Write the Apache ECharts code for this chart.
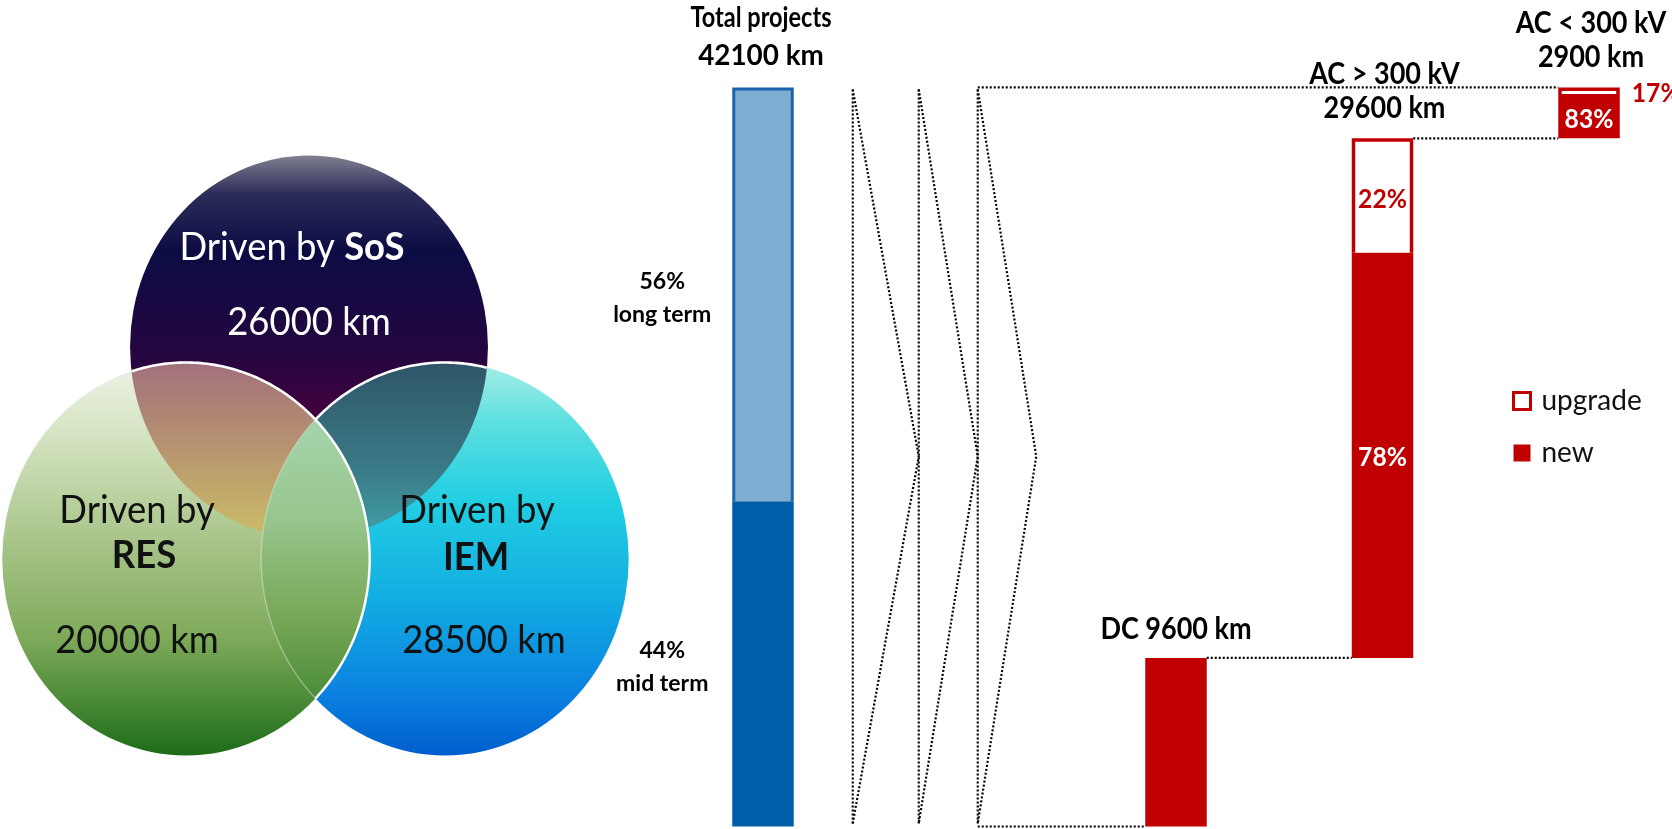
<!DOCTYPE html>
<html><head><meta charset="utf-8">
<script src="https://cdn.jsdelivr.net/npm/echarts@6/dist/echarts.min.js"></script>
<style>html,body{margin:0;padding:0;background:#fff}#c{width:1672px;height:829px}</style>
</head><body><div id="c"></div>
<script>
// ---------------- data ----------------
const categories = ['Total projects', '', 'DC', 'AC > 300 kV', 'AC < 300 kV'];
const totalKm = 42100;
const termShares = [44, 56];               // % of total, bottom to top
const termNames = ['mid term', 'long term'];
const typeNames = ['DC', 'AC > 300 kV', 'AC < 300 kV'];
const typeKm = [9600, 29600, 2900];
const newShare = [100, 78, 83];
const upgradeShare = [0, 22, 17];
const typeLabelInline = [true, false, false];
const vennNames = ['SoS', 'RES', 'IEM'];
const vennKm = [26000, 20000, 28500];

// ---------------- style ----------------
const BW = 61.5, RED = '#c00000', BLUE_DARK = '#005da8', BLUE_LIGHT = '#80aed3', BLUE_EDGE = '#1b64ad';
const FONT = 'Lato, "Open Sans", "Liberation Sans", sans-serif';
const DOT = {stroke: '#000', lineWidth: 2.2, lineDash: [2, 2], fill: null};

function txt(t, x, y, o) {
  o = o || {};
  return {type: 'text', x: x, y: y, scaleX: o.sx || 1, z2: 50,
    style: {text: t, fill: o.color || '#000', fontSize: o.size || 26, fontFamily: FONT,
      fontWeight: o.weight || 'bold', textAlign: o.align || 'center', textVerticalAlign: 'middle',
      align: o.align || 'center', verticalAlign: 'middle'}};
}

// ---------------- derived series data ----------------
const totalData = termShares.map((sh, i) => {
  const start = termShares.slice(0, i).reduce((a, b) => a + b, 0) * totalKm / 100;
  return [0, start, start + sh * totalKm / 100, sh, i];
});
let cum = 0;
const newData = [], upgradeData = [], linkData = [[1, 0, 2]];
typeKm.forEach((km, i) => {
  const cat = i + 2, start = cum, newEnd = start + km * newShare[i] / 100, end = start + km;
  newData.push([cat, start, newEnd, newShare[i], i, end]);
  if (upgradeShare[i] > 0) upgradeData.push([cat, newEnd, end, upgradeShare[i], i]);
  if (i < typeKm.length - 1) linkData.push([cat, end, cat + 1]);
  cum = end;
});
linkData.push([1, totalKm, typeKm.length + 1]);

const FOLD_OFF = [59, 125, 184], FOLD_TIP = [125, 184, 242.5];
function foldX(api) { const r = api.coord([0, 0])[0] + BW / 2; return FOLD_OFF.map(o => r + o); }

function renderTotal(params, api) {
  const cat = api.value(0), s = api.value(1), e = api.value(2), share = api.value(3), idx = api.value(4);
  const p0 = api.coord([cat, s]), p1 = api.coord([cat, e]);
  const x = p0[0] - BW / 2, yTop = p1[1], yBot = p0[1];
  const ch = [];
  if (idx === 0) {
    ch.push({type: 'rect', shape: {x: x, y: yTop, width: BW, height: yBot - yTop}, style: {fill: BLUE_DARK}});
  } else {
    ch.push({type: 'rect', shape: {x: x, y: yTop, width: BW, height: yBot - yTop}, style: {fill: BLUE_EDGE}});
    ch.push({type: 'rect', shape: {x: x + 3, y: yTop + 3, width: BW - 6, height: yBot - yTop - 3}, style: {fill: BLUE_LIGHT}});
    ch.push(txt(categories[cat], p0[0] - 2, yTop - 69, {size: 28, sx: 0.84}));
    ch.push(txt(totalKm + ' km', p0[0] - 2, yTop - 32, {size: 29, sx: 0.96}));
  }
  const cy = (yTop + yBot) / 2;
  ch.push(txt(share + '%', x - 70, cy - 13, {size: 23}));
  ch.push(txt(termNames[idx], x - 70, cy + 20, {size: 23}));
  return {type: 'group', children: ch};
}

function renderNew(params, api) {
  const cat = api.value(0), s = api.value(1), e = api.value(2), share = api.value(3), ti = api.value(4), top = api.value(5);
  const p0 = api.coord([cat, s]), p1 = api.coord([cat, e]), pt = api.coord([cat, top]);
  const x = p0[0] - BW / 2;
  const ch = [{type: 'rect', shape: {x: x, y: p1[1], width: BW, height: p0[1] - p1[1]}, style: {fill: RED}}];
  if (share < 100) ch.push(txt(share + '%', p0[0], (p0[1] + p1[1]) / 2 + 2, {color: '#fff', size: 26, sx: 0.95}));
  if (typeLabelInline[ti]) {
    ch.push(txt(typeNames[ti] + ' ' + typeKm[ti] + ' km', p0[0], pt[1] - 29, {size: 30, sx: 0.9}));
  } else {
    ch.push(txt(typeNames[ti], p0[0] + 2, pt[1] - 64, {size: 30, sx: 0.9}));
    ch.push(txt(typeKm[ti] + ' km', p0[0] + 2, pt[1] - 30, {size: 30, sx: 0.9}));
  }
  return {type: 'group', children: ch};
}

function renderUpgrade(params, api) {
  const cat = api.value(0), s = api.value(1), e = api.value(2), share = api.value(3);
  const p0 = api.coord([cat, s]), p1 = api.coord([cat, e]);
  const x = p0[0] - BW / 2, h = p0[1] - p1[1], b = 3.5;
  const ch = [
    {type: 'rect', shape: {x: x, y: p1[1], width: BW, height: h}, style: {fill: RED}},
    {type: 'rect', shape: {x: x + b, y: p1[1] + b, width: BW - 2 * b, height: Math.max(h - b - (h < 20 ? 2 : 0), 1)}, style: {fill: '#fff'}}
  ];
  const cy = (p0[1] + p1[1]) / 2;
  if (h > 30) ch.push(txt(share + '%', p0[0], cy + 4, {color: RED, size: 26, sx: 0.95}));
  else ch.push(txt(share + '%', x + BW + 12, cy + 2, {color: RED, size: 26, sx: 0.95, align: 'left'}));
  return {type: 'group', children: ch};
}

function renderLinks(params, api) {
  const from = api.value(0), v = api.value(1), to = api.value(2);
  const pTo = api.coord([to, v]);
  const xf = from === 1 ? foldX(api)[2] : api.coord([from, v])[0] + BW / 2;
  return {type: 'line', shape: {x1: xf, y1: pTo[1], x2: pTo[0] - BW / 2, y2: pTo[1]}, style: DOT};
}

function renderFold(params, api) {
  const yb = api.coord([0, api.value(1)])[1] - 3, yt = api.coord([0, api.value(2)])[1] + 2, ym = (yb + yt) / 2;
  const r = api.coord([0, 0])[0] + BW / 2;
  const ch = [];
  FOLD_OFF.forEach((o, k) => {
    const x = r + o, xt = r + FOLD_TIP[k];
    ch.push({type: 'line', shape: {x1: x, y1: yt, x2: x, y2: yb}, style: DOT});
    ch.push({type: 'polyline', shape: {points: [[x, yt], [xt, ym], [x, yb]]}, style: DOT});
  });
  return {type: 'group', children: ch};
}

// ---------------- Venn (decorative graphic, drawn in a horizontally squeezed group) ----------------
const SQ = 0.935;
const C = {SoS: {cx: 330.5, cy: 347, r: 191.4}, RES: {cx: 198.9, cy: 559, r: 196.5}, IEM: {cx: 475.9, cy: 559, r: 196.5}};
function grad(stops) { return {type: 'linear', x: 0, y: 0, x2: 0, y2: 1, colorStops: stops.map(s => ({offset: s[0], color: s[1]}))}; }
function arcPts(c, a0, a1, n) {
  const pts = [];
  for (let i = 0; i <= n; i++) { const a = a0 + (a1 - a0) * i / n; pts.push([c.cx + c.r * Math.cos(a), c.cy + c.r * Math.sin(a)]); }
  return pts;
}
function lensInfo(a, b) {
  const dx = b.cx - a.cx, dy = b.cy - a.cy, d = Math.hypot(dx, dy);
  const A = (d * d + a.r * a.r - b.r * b.r) / (2 * d), h = Math.sqrt(a.r * a.r - A * A);
  return {tu: Math.atan2(dy, dx), phi: Math.atan2(h, A), psi: Math.atan2(h, d - A)};
}
function lensPts(a, b) {
  const L = lensInfo(a, b);
  return arcPts(a, L.tu + L.phi, L.tu - L.phi, 60).concat(arcPts(b, L.tu + Math.PI + L.psi, L.tu + Math.PI - L.psi, 60));
}
const gSoS = grad([[0, '#80808f'], [0.1, '#2c2c5a'], [0.25, '#0c0c44'], [0.5, '#22063f'], [0.75, '#4e003f'], [1, '#8e0042']]);
const gRES = grad([[0, '#eef2e6'], [0.2, '#d2e2be'], [0.45, '#a9c58a'], [0.7, '#7eaa5a'], [0.86, '#4a8a36'], [1, '#1c6c18']]);
const gIEM = grad([[0, '#a6eee6'], [0.15, '#5edfe0'], [0.35, '#22cfe2'], [0.6, '#12ade2'], [0.85, '#0a80e0'], [1, '#005ecc']]);
const LRS = lensInfo(C.RES, C.SoS), LRI = lensInfo(C.RES, C.IEM), LIS = lensInfo(C.IEM, C.SoS), LIR = lensInfo(C.IEM, C.RES);
const vennShapes = [
  {type: 'circle', shape: C.SoS, style: {fill: gSoS}},
  {type: 'circle', shape: C.IEM, style: {fill: gIEM}},
  {type: 'circle', shape: C.RES, style: {fill: gRES}},
  {type: 'polygon', shape: {points: lensPts(C.RES, C.SoS)}, style: {fill: grad([[0, '#a2707c'], [0.5, '#b8956f'], [1, '#cbbe66']])}},
  {type: 'polygon', shape: {points: lensPts(C.IEM, C.SoS)}, style: {fill: grad([[0, '#2f5668'], [0.6, '#3a7a86'], [1, '#40a0aa']])}},
  {type: 'polygon', shape: {points: lensPts(C.RES, C.IEM)}, style: {fill: grad([[0, '#a4d4ac'], [0.35, '#98c68e'], [0.7, '#78a858'], [1, '#4a8c38']]), stroke: 'rgba(255,255,255,0.35)', lineWidth: 1.5}},
  {type: 'polyline', shape: {points: arcPts(C.RES, LRS.tu - LRS.phi, LRI.tu + LRI.phi, 160)}, style: {stroke: '#fff', lineWidth: 2.6, fill: null}},
  {type: 'polyline', shape: {points: arcPts(C.IEM, LIR.tu + LIR.phi - 2 * Math.PI, LIS.tu + LIS.phi, 60)}, style: {stroke: '#fff', lineWidth: 2.6, fill: null}}
];
function vtxt(t, x, y, color) {
  return {type: 'text', x: x, y: y, scaleX: SQ, z: 10, style: {text: t, fill: color, fontSize: 39, fontFamily: FONT, textAlign: 'center', textVerticalAlign: 'middle',
    rich: {b: {fontWeight: 'bold', fontSize: 39, fontFamily: FONT, fill: color}}}};
}
const vennGraphics = [
  {type: 'group', x: 0, y: 0, scaleX: SQ, children: vennShapes},
  vtxt('Driven by {b|' + vennNames[0] + '}', 292, 247, '#fff'),
  vtxt(vennKm[0] + ' km', 309, 322, '#fff'),
  vtxt('Driven by', 137, 510, '#111'),
  vtxt('{b|' + vennNames[1] + '}', 144, 555, '#111'),
  vtxt(vennKm[1] + ' km', 137, 640, '#111'),
  vtxt('Driven by', 477, 510, '#111'),
  vtxt('{b|' + vennNames[2] + '}', 476, 557, '#111'),
  vtxt(vennKm[2] + ' km', 484, 640, '#111')
];

// ---------------- chart ----------------
const chart = echarts.init(document.getElementById('c'), null, {renderer: 'canvas'});
chart.setOption({
  animation: false,
  grid: {left: 763, top: 87.4, width: 826, height: 739.1},
  xAxis: {type: 'category', data: categories, show: false, boundaryGap: false},
  yAxis: {type: 'value', min: 0, max: totalKm, show: false},
  legend: {
    orient: 'vertical', left: 1507, top: 382, itemWidth: 17, itemHeight: 17, itemGap: 24, selectedMode: false,
    textStyle: {fontFamily: FONT, fontSize: 28, color: '#111', padding: [0, 0, 0, 6]},
    data: [
      {name: 'upgrade', icon: 'rect', itemStyle: {color: '#fff', borderColor: RED, borderWidth: 3}},
      {name: 'new', icon: 'rect', itemStyle: {color: RED, borderWidth: 0}}
    ]
  },
  graphic: vennGraphics,
  series: [
    {type: 'custom', name: 'Total', data: totalData, renderItem: renderTotal, encode: {x: 0, y: 1}, silent: true},
    {type: 'custom', name: 'fold', data: [[0, 0, totalKm]], renderItem: renderFold, encode: {x: 0, y: 1}, silent: true},
    {type: 'custom', name: 'links', data: linkData, renderItem: renderLinks, encode: {x: 0, y: 1}, silent: true},
    {type: 'custom', name: 'new', data: newData, renderItem: renderNew, encode: {x: 0, y: 1}, itemStyle: {color: RED}, silent: true},
    {type: 'custom', name: 'upgrade', data: upgradeData, renderItem: renderUpgrade, encode: {x: 0, y: 1}, itemStyle: {color: '#fff'}, silent: true}
  ]
});
</script></body></html>
